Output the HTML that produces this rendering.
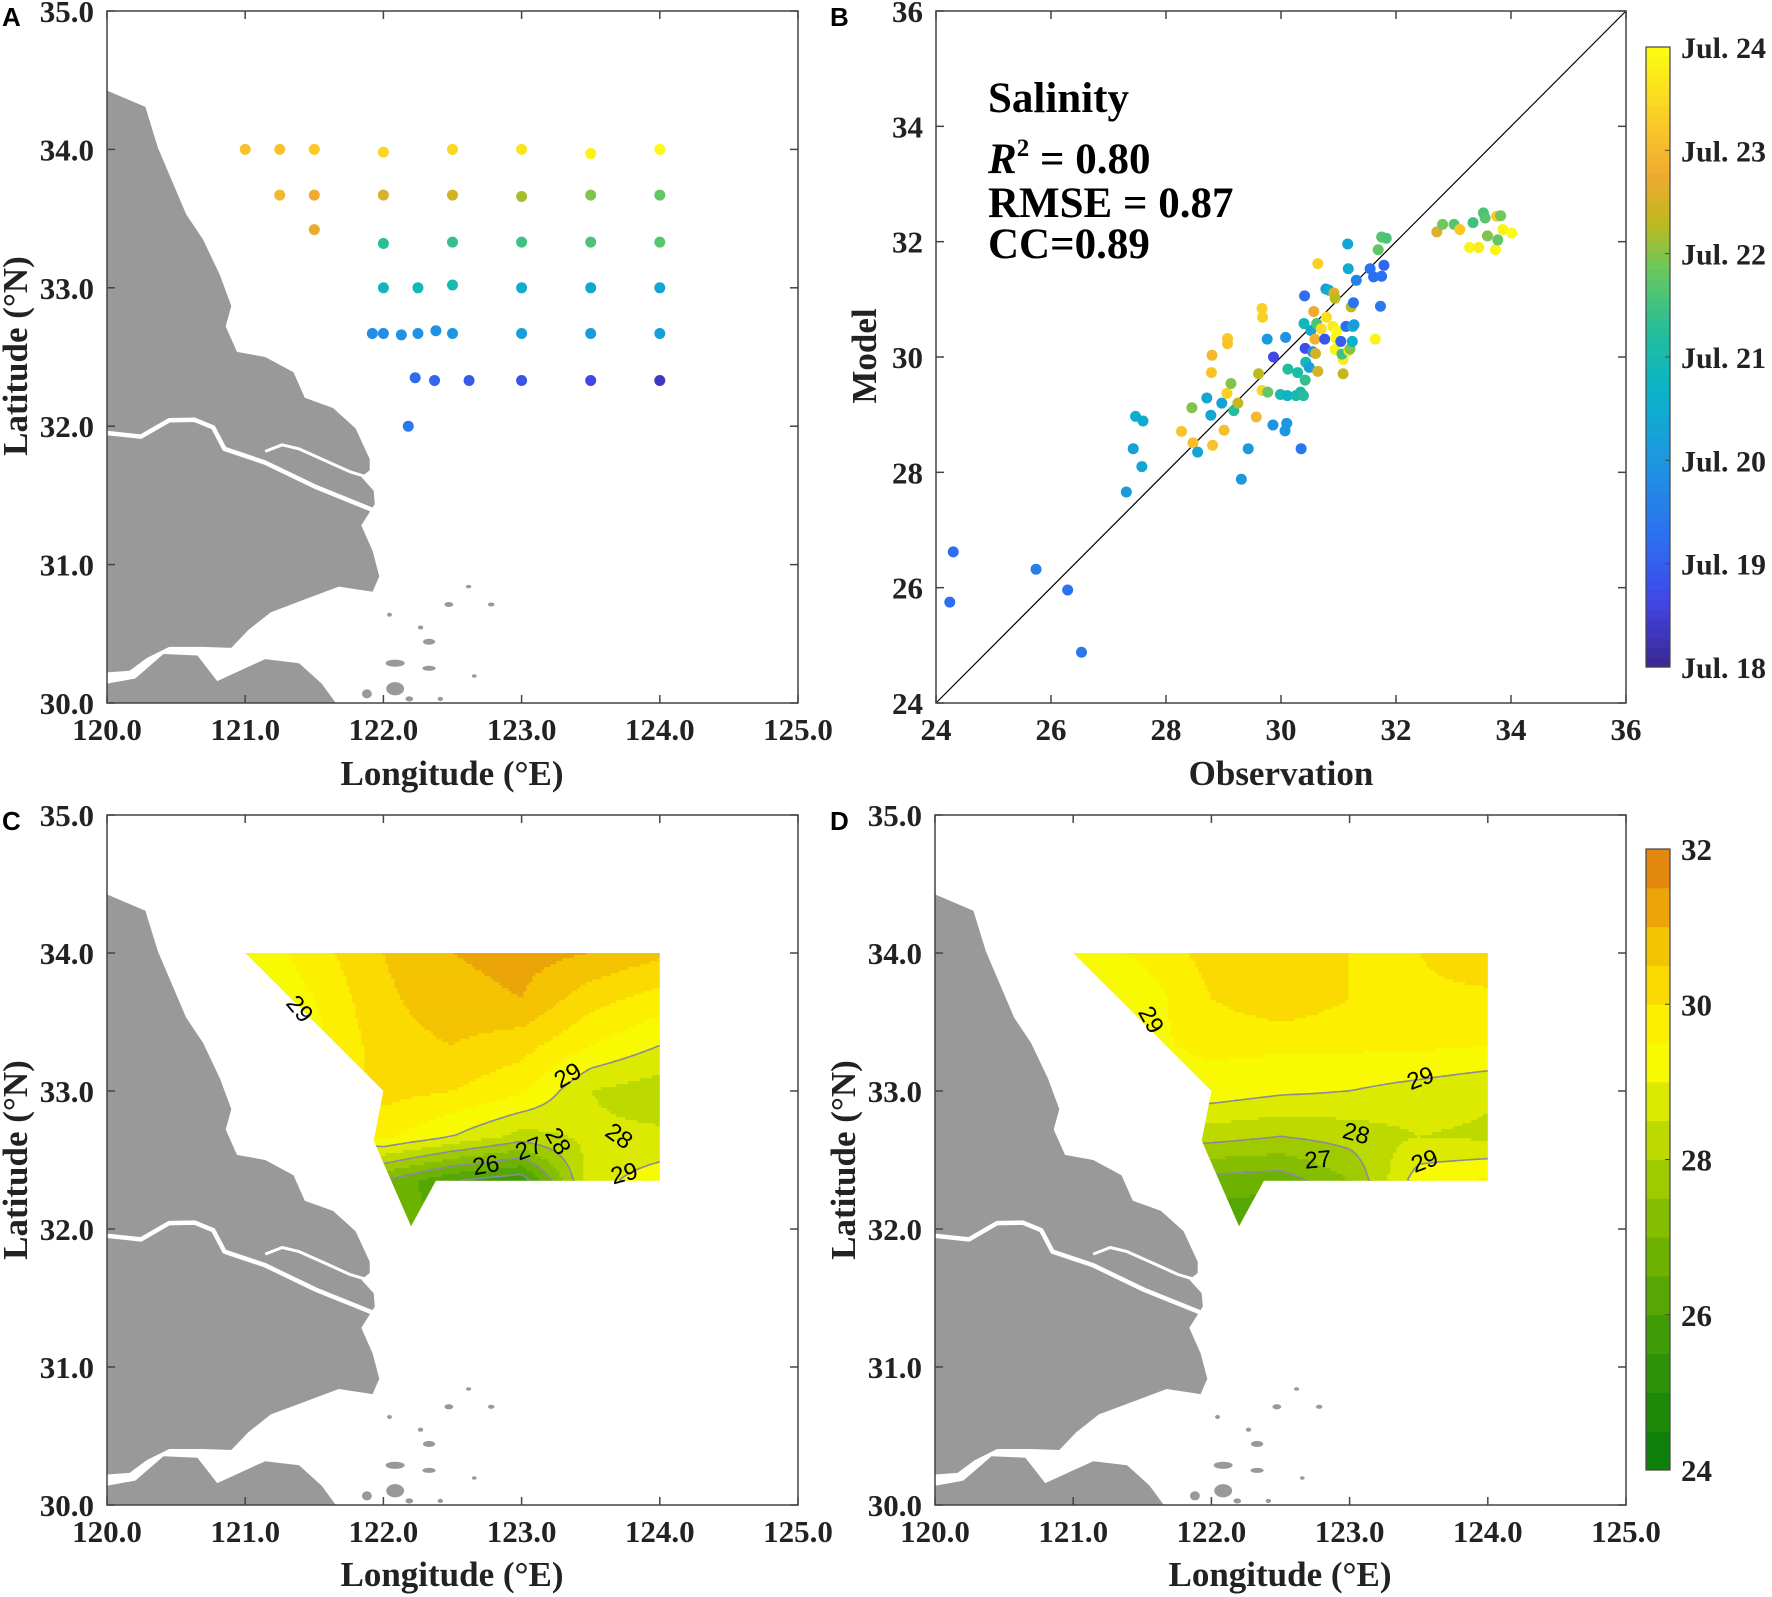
<!DOCTYPE html>
<html><head><meta charset="utf-8"><style>
html,body{margin:0;padding:0;background:#fff;overflow:hidden;}
svg{display:block;}
.tk{font-family:"Liberation Serif",serif;font-weight:bold;font-size:31px;fill:#222;}
.lb{font-family:"Liberation Serif",serif;font-weight:bold;font-size:35px;fill:#222;}
.pl{font-family:"Liberation Sans",sans-serif;font-weight:bold;font-size:26px;fill:#000;}
.cl{font-family:"Liberation Sans",sans-serif;font-size:24px;fill:#000;}
</style></head><body>
<svg id="fig" width="1772" height="1597" viewBox="0 0 1772 1597" xmlns="http://www.w3.org/2000/svg">
<defs></defs>
</svg>
<script>
// ---------- DATA ----------
const stLon = [121.0,121.25,121.5,122.0,122.5,123.0,123.5,124.0, 121.25,121.5,122.0,122.5,123.0,123.5,124.0, 121.5, 122.0,122.5,123.0,123.5,124.0, 122.0,122.25,122.5,123.0,123.5,124.0, 121.92,122.0,122.13,122.25,122.38,122.5,123.0,123.5,124.0, 122.23,122.37,122.62,123.0,123.5,124.0, 122.18];
const stLat = [34.0,34.0,34.0,33.98,34.0,34.0,33.97,34.0, 33.67,33.67,33.67,33.67,33.66,33.67,33.67, 33.42, 33.32,33.33,33.33,33.33,33.33, 33.0,33.0,33.02,33.0,33.0,33.0, 32.67,32.67,32.66,32.67,32.69,32.67,32.67,32.67,32.67, 32.35,32.33,32.33,32.33,32.33,32.33, 32.0];
const stDay = [23.2,23.2,23.3,23.5,23.5,23.7,23.9,24.0, 23.0,22.8,22.6,22.5,22.2,22.0,21.8, 22.7, 21.3,21.4,21.5,21.6,21.7, 20.9,20.9,21.0,20.5,20.4,20.3, 19.8,19.8,19.9,19.9,19.9,20.0,20.2,20.1,20.2, 19.2,19.1,18.9,18.8,18.6,18.3, 19.4];

const obs = [24.24,24.30,25.74,26.29,26.53,27.31,27.43,27.47,27.60,27.58,28.27,28.45,28.47,28.55,28.71,28.78,28.79,28.80,28.81,28.97,29.01,29.06,29.07,29.07,29.13,29.18,29.25,29.31,29.43,29.57,29.61,29.67,29.68,29.67,29.76,29.77,29.86,29.87,29.99,30.07,30.08,30.10,30.11,30.12,30.26,30.29,30.34,30.35,30.39,30.41,30.40,30.42,30.42,30.43,30.49,30.52,30.55,30.57,30.59,30.62,30.64,30.64,30.60,30.70,30.76,30.78,30.79,30.83,30.90,30.92,30.94,30.95,30.94,30.97,31.04,31.08,31.08,31.06,31.13,31.16,31.17,31.18,31.20,31.22,31.24,31.25,31.26,31.27,31.31,31.55,31.61,31.64,31.69,31.73,31.75,31.75,31.79,31.83,32.71,32.81,33.01,33.11,33.28,33.34,33.44,33.52,33.55,33.59,33.73,33.75,33.77,33.82,33.86,34.01];
const mod = [25.75,26.62,26.32,25.96,24.88,27.66,28.41,28.97,28.89,28.10,28.71,29.12,28.51,28.35,29.29,28.99,29.73,30.03,28.47,29.20,28.73,29.37,30.32,30.23,29.54,29.07,29.20,27.88,28.41,28.96,29.71,30.84,30.69,29.42,30.31,29.39,28.82,30.00,29.35,28.72,30.34,28.85,29.33,29.79,29.33,29.73,29.39,28.41,29.33,31.06,30.58,30.15,29.60,29.91,29.82,30.46,30.09,30.79,30.31,30.58,31.62,29.75,30.06,30.49,30.31,31.18,30.69,31.16,30.53,31.11,31.02,30.33,30.13,30.45,30.27,29.96,29.71,30.05,30.53,31.96,31.53,30.11,30.14,30.87,30.27,30.53,30.94,30.56,31.33,31.53,31.39,30.31,31.86,30.88,31.40,32.08,31.59,32.06,32.17,32.30,32.30,32.21,31.90,32.33,31.90,32.50,32.41,32.10,31.86,32.44,32.03,32.45,32.21,32.15];
const day = [19.2,19.2,19.5,19.3,19.4,20.1,20.3,20.5,20.5,20.4,23.2,22.0,23.1,20.3,20.4,20.4,23.2,23.0,23.2,20.3,23.1,23.4,23.3,23.2,22.0,21.2,22.4,20.0,20.1,23.0,22.3,23.4,23.4,23.5,20.1,21.8,19.9,18.6,21.0,20.0,19.9,20.0,20.7,21.2,21.0,21.1,21.0,19.4,21.2,19.2,20.9,18.7,21.4,21.0,20.2,20.4,19.7,22.8,22.9,21.6,23.4,22.5,22.5,23.6,18.8,20.2,23.6,20.5,23.8,22.6,22.3,24.0,23.9,24.0,19.0,23.8,22.4,21.5,19.2,20.4,20.5,23.7,22.0,22.3,20.6,20.8,19.3,20.1,19.6,19.3,19.2,23.9,21.8,19.4,19.3,21.7,19.1,21.6,22.6,21.9,21.7,23.3,23.9,21.5,23.8,21.6,21.7,22.0,23.9,23.3,21.8,21.9,23.9,24.0];
const bTicks = [24,26,28,30,32,34,36];
const dayTicks = ["Jul. 18","Jul. 19","Jul. 20","Jul. 21","Jul. 22","Jul. 23","Jul. 24"];

const gLon = [121.0,121.5,122.0,122.5,123.0,123.5,124.0];
const gLat = [32.0,32.35,32.67,33.0,33.33,33.67,34.0];
const fieldC = [
 [26.6,26.6,26.6,26.6,26.6,26.6,26.6],
 [27.0,27.0,27.0,26.0,25.6,28.8,29.3],
 [29.0,29.2,29.6,29.0,28.3,28.6,28.6],
 [29.0,29.3,30.2,30.0,29.6,28.5,28.2],
 [28.8,29.3,30.3,30.5,30.2,29.5,29.0],
 [28.8,29.5,30.4,30.8,31.0,30.2,29.8],
 [29.0,29.8,30.5,31.0,31.2,31.0,30.6]];
const fieldD = [
 [26.0,26.0,26.0,26.0,26.0,26.0,26.0],
 [27.0,27.0,26.8,26.7,27.5,29.3,29.6],
 [28.3,28.3,28.2,28.0,28.2,28.5,28.4],
 [29.3,29.3,29.3,29.1,29.0,28.8,28.6],
 [29.2,29.4,29.6,29.6,29.6,29.6,29.5],
 [28.8,29.2,30.0,30.4,30.0,29.9,29.9],
 [29.2,29.6,30.2,30.5,30.0,30.0,30.3]];
const cbTicks = [24,26,28,30,32];
const levelsC = [26,27,28,29];
const levelsD = [27,28,29];
const mapXTicks = [120,121,122,123,124,125];
const mapYTicks = [30,31,32,33,34,35];

// ---------- helpers ----------
const NS="http://www.w3.org/2000/svg";
const svg=document.getElementById('fig');
function mk(tag,attrs,parent){const e=document.createElementNS(NS,tag);for(const k in attrs)e.setAttribute(k,attrs[k]);(parent||svg).appendChild(e);return e;}
function lerp(a,b,t){return a+(b-a)*t;}
const cmT=[0,0.1,0.2,0.33,0.45,0.55,0.65,0.72,0.8,0.88,1.0];
const cmC=[[60,40,150],[65,70,230],[45,110,240],[30,150,225],[10,180,200],[40,190,150],[110,200,90],[190,185,30],[240,170,50],[250,200,40],[250,250,20]];
function parula(t){t=Math.max(0,Math.min(1,t));for(let i=0;i<cmT.length-1;i++){if(t<=cmT[i+1]){const f=(t-cmT[i])/(cmT[i+1]-cmT[i]);const a=cmC[i],b=cmC[i+1];return `rgb(${Math.round(lerp(a[0],b[0],f))},${Math.round(lerp(a[1],b[1],f))},${Math.round(lerp(a[2],b[2],f))})`;}}return 'rgb(250,250,20)';}
const salStops=[[24,[8,124,10]],[25.5,[52,150,8]],[27,[120,184,0]],[28,[172,208,0]],[28.8,[222,236,0]],[29.4,[255,255,0]],[30,[252,228,0]],[30.6,[246,204,0]],[31.2,[236,168,8]],[32,[222,122,16]]];
function salColor(v){v=Math.max(24,Math.min(32,v));for(let i=0;i<salStops.length-1;i++){const a=salStops[i],b=salStops[i+1];if(v<=b[0]){const f=(v-a[0])/(b[0]-a[0]);return `rgb(${Math.round(lerp(a[1][0],b[1][0],f))},${Math.round(lerp(a[1][1],b[1][1],f))},${Math.round(lerp(a[1][2],b[1][2],f))})`;}}return 'rgb(222,122,16)';}
function bandOf(v){return Math.max(0,Math.min(15,Math.floor((v-24)/0.5)));}
function bandColor(b){return salColor(24+0.25+b*0.5);}

const coastPts=[[190,178],[258,210],[280,290],[330,420],[360,470],[390,540],[410,600],[400,640],[420,690],[470,700],[520,730],[540,780],[590,800],[630,840],[655,900],[655,922],[640,935],[662,962],[664,988],[640,1030],[660,1080],[672,1130],[660,1160],[600,1150],[540,1175],[480,1200],[440,1235],[410,1270],[360,1268],[300,1268],[260,1290],[230,1315],[190,1318]];
const southPts=[[190,1378],[190,1340],[240,1330],[290,1282],[350,1285],[385,1335],[470,1292],[530,1300],[570,1340],[595,1378]];
const riverMain=[[190,849],[250,856],[300,824],[345,823],[378,838],[398,880],[470,907],[560,955],[665,1002]];
const riverNorth=[[470,885],[500,872],[530,880],[580,905],[620,925],[665,940]];
const islandPts=[[700,1300,30,10],[760,1310,20,6],[760,1258,18,8],[795,1185,12,6],[650,1360,14,14],[700,1350,28,22],[745,1230,6,4],[690,1205,5,4],[830,1150,6,3],[870,1185,8,4],[840,1325,5,3],[725,1370,10,6],[780,1370,6,4]];
function zl(p){return [120+(p[0]-190)/244.6,35-(p[1]-22)/271.2];}

function makeAxes(x0,y0,w,h,xmin,xmax,ymin,ymax){
  return {x0,y0,w,h,X:v=>x0+(v-xmin)/(xmax-xmin)*w,Y:v=>y0+h-(v-ymin)/(ymax-ymin)*h};
}
function drawFrame(ax,xt,yt,fmt,name){
  const g=mk('g',{});
  
  
  mk('rect',{x:ax.x0,y:ax.y0,width:ax.w,height:ax.h,fill:'none',stroke:'#444','stroke-width':1.5},g);
  xt.forEach(v=>{const x=ax.X(v);
    mk('line',{x1:x,y1:ax.y0+ax.h,x2:x,y2:ax.y0+ax.h-8,stroke:'#444','stroke-width':1.5},g);
    mk('line',{x1:x,y1:ax.y0,x2:x,y2:ax.y0+8,stroke:'#444','stroke-width':1.5},g);
    const t=mk('text',{x:x,y:ax.y0+ax.h+37,'text-anchor':'middle',class:'tk'},g);t.textContent=fmt(v);
    
    
  });
  yt.forEach(v=>{const y=ax.Y(v);
    mk('line',{x1:ax.x0,y1:y,x2:ax.x0+8,y2:y,stroke:'#444','stroke-width':1.5},g);
    mk('line',{x1:ax.x0+ax.w,y1:y,x2:ax.x0+ax.w-8,y2:y,stroke:'#444','stroke-width':1.5},g);
    const t=mk('text',{x:ax.x0-13,y:y+11,'text-anchor':'end',class:'tk'},g);t.textContent=fmt(v);
    
    
  });
}
function drawLand(ax,name){
  const g=mk('g',{});
  
  
  const P=pts=>pts.map(p=>{const q=zl(p);return ax.X(q[0]).toFixed(1)+','+ax.Y(q[1]).toFixed(1);}).join(' ');
  mk('polygon',{points:P(coastPts),fill:'#999'},g);
  mk('polygon',{points:P(southPts),fill:'#999'},g);
  mk('polyline',{points:P(riverMain),fill:'none',stroke:'#fff','stroke-width':4.5,'stroke-linejoin':'round'},g);
  mk('polyline',{points:P(riverNorth),fill:'none',stroke:'#fff','stroke-width':3,'stroke-linejoin':'round'},g);
  islandPts.forEach(p=>{const q=zl(p);mk('ellipse',{cx:ax.X(q[0]),cy:ax.Y(q[1]),rx:p[2]/1.77/2+1,ry:p[3]/1.96/2+1,fill:'#999'},g);});
}
function xLabel(x,y,txt,name){const t=mk('text',{x:x,y:y,'text-anchor':'middle',class:'lb'});t.textContent=txt;
  
  }
function yLabel(x,y,txt,name){const t=mk('text',{x:0,y:0,'text-anchor':'middle',class:'lb',transform:`translate(${x},${y}) rotate(-90)`});t.textContent=txt;
  
  }
function panelLetter(x,y,l){const t=mk('text',{x:x,y:y,class:'pl'});t.textContent=l;
  
  }
const fmt1=v=>v.toFixed(1);

// ---------- Panel A ----------
const axA=makeAxes(107,11,691,692,120,125,30,35);
drawLand(axA,'panel-a');
stLon.forEach((lo,i)=>{const c=mk('circle',{cx:axA.X(lo),cy:axA.Y(stLat[i]),r:5.5,fill:parula((stDay[i]-18)/6)});
  
  });
drawFrame(axA,mapXTicks,mapYTicks,fmt1,'panel-a');
xLabel(452,785,'Longitude (°E)','x-axis-title-a');
yLabel(27,356,'Latitude (°N)','y-axis-title-a');
panelLetter(2,26,'A');

// ---------- Panel B ----------
const axB=makeAxes(936,11,690,692,24,36,24,36);
mk('line',{x1:axB.X(24),y1:axB.Y(24),x2:axB.X(36),y2:axB.Y(36),stroke:'#000','stroke-width':1.2});
obs.forEach((o,i)=>{const c=mk('circle',{cx:axB.X(o),cy:axB.Y(mod[i]),r:5.5,fill:parula((day[i]-18)/6)});
  
  });
drawFrame(axB,bTicks,bTicks,v=>String(v),'panel-b');
xLabel(1281,785,'Observation','x-axis-title-b');
yLabel(876,356,'Model','y-axis-title-b');
panelLetter(830,26,'B');
[['Salinity',112,'stat-title'],['RMSE = 0.87',217,'stat-rmse'],['CC=0.89',258,'stat-cc']].forEach(a=>{
  const t=mk('text',{x:988,y:a[1],class:'lb',style:'font-size:43px;fill:#000'});t.textContent=a[0];
  
  });
{const t=mk('text',{x:988,y:173,class:'lb',style:'font-size:43px;fill:#000'});
 t.innerHTML='<tspan font-style="italic">R</tspan><tspan font-size="25" dy="-17">2</tspan><tspan dy="17"> = 0.80</tspan>';
 
 }
{const cx=1646,cw=24,cy0=47,cy1=667;const g=mk('g',{});
 
 
 for(let k=0;k<64;k++){const y=cy1-(k+1)*(cy1-cy0)/64;mk('rect',{x:cx,y:y,width:cw,height:(cy1-cy0)/64+0.6,fill:parula(k/63)},g);}
 mk('rect',{x:cx,y:cy0,width:cw,height:cy1-cy0,fill:'none',stroke:'#444','stroke-width':1.2},g);
 dayTicks.forEach((lab,i)=>{const y=cy1-i*(cy1-cy0)/6;
   mk('line',{x1:cx+cw-5,y1:y,x2:cx+cw,y2:y,stroke:'#444'},g);
   const t=mk('text',{x:1681,y:y+11,class:'tk',style:'font-size:30px'},g);t.textContent=lab;
   
   });}

// ---------- Panels C/D ----------
const domainPts=[[121.0,34.0],[124.0,34.0],[124.0,32.35],[122.38,32.35],[122.2,32.02],[121.93,32.64],[122.0,33.0]];
function field(F,lo,la){
  let i=0;while(i<gLon.length-2&&lo>gLon[i+1])i++;
  let j=0;while(j<gLat.length-2&&la>gLat[j+1])j++;
  const fx=Math.max(0,Math.min(1,(lo-gLon[i])/(gLon[i+1]-gLon[i])));
  const fy=Math.max(0,Math.min(1,(la-gLat[j])/(gLat[j+1]-gLat[j])));
  return lerp(lerp(F[j][i],F[j][i+1],fx),lerp(F[j+1][i],F[j+1][i+1],fx),fy);
}
function drawContourPanel(ax,F,levels,id,labels){
  const clip=mk('clipPath',{id:'clip-'+id},svg.querySelector('defs'));
  mk('polygon',{points:domainPts.map(p=>ax.X(p[0])+','+ax.Y(p[1])).join(' ')},clip);
  const g=mk('g',{'clip-path':`url(#clip-${id})`});
  
  
  const s=3;const xa=ax.X(120.95),xb=ax.X(124.05),ya=ax.Y(34.05),yb=ax.Y(31.95);
  const nx=Math.ceil((xb-xa)/s),ny=Math.ceil((yb-ya)/s);
  const inv=(px,py)=>[120+(px-ax.x0)/ax.w*5,30+(ax.y0+ax.h-py)/ax.h*5];
  for(let r=0;r<ny;r++){let run=-1,rb=-1;
    for(let c=0;c<=nx;c++){let b=-2;
      if(c<nx){const q=inv(xa+(c+0.5)*s,ya+(r+0.5)*s);b=bandOf(field(F,q[0],q[1]));}
      if(b!==rb){if(rb>=0){mk('rect',{x:xa+run*s,y:ya+r*s,width:(c-run)*s+0.5,height:s+0.5,fill:bandColor(rb)},g);}run=c;rb=b;}
    }}
  const V=[];for(let r=0;r<=ny;r++){V.push([]);for(let c=0;c<=nx;c++){const q=inv(xa+c*s,ya+r*s);V[r].push(field(F,q[0],q[1]));}}
  levels.forEach(L=>{let d='';
    for(let r=0;r<ny;r++)for(let c=0;c<nx;c++){
      const a=V[r][c],b=V[r][c+1],cc=V[r+1][c+1],dd=V[r+1][c];
      const pts=[];
      const e=(v1,v2,x1,y1,x2,y2)=>{if((v1<L)!==(v2<L)){const t=(L-v1)/(v2-v1);pts.push([x1+(x2-x1)*t,y1+(y2-y1)*t]);}};
      const X0=xa+c*s,Y0=ya+r*s;
      e(a,b,X0,Y0,X0+s,Y0);e(b,cc,X0+s,Y0,X0+s,Y0+s);e(dd,cc,X0,Y0+s,X0+s,Y0+s);e(a,dd,X0,Y0,X0,Y0+s);
      if(pts.length>=2)d+=`M${pts[0][0].toFixed(1)},${pts[0][1].toFixed(1)}L${pts[1][0].toFixed(1)},${pts[1][1].toFixed(1)}`;
      if(pts.length===4)d+=`M${pts[2][0].toFixed(1)},${pts[2][1].toFixed(1)}L${pts[3][0].toFixed(1)},${pts[3][1].toFixed(1)}`;
    }
    const p=mk('path',{d:d,fill:'none',stroke:'#8a8a9a','stroke-width':1.6},g);
    
    
  });
  labels.forEach(l=>{const x=ax.X(l[1]),y=ax.Y(l[2]);
    const t=mk('text',{x:x,y:y+9,'text-anchor':'middle',class:'cl',transform:`rotate(${l[3]} ${x} ${y})`});t.textContent=l[0];
    
    });
}
const axC=makeAxes(107,815,691,690,120,125,30,35);
drawLand(axC,'panel-c');
drawContourPanel(axC,fieldC,levelsC,'panel-c',[['29',121.4,33.6,50],['29',123.33,33.12,-30],['28',123.71,32.68,35],['28',123.27,32.64,60],['27',123.05,32.59,-20],['26',122.74,32.47,-10],['29',123.74,32.41,-15]]);
drawFrame(axC,mapXTicks,mapYTicks,fmt1,'panel-c');
xLabel(452,1586,'Longitude (°E)','x-axis-title-c');
yLabel(27,1160,'Latitude (°N)','y-axis-title-c');
panelLetter(2,830,'C');

const axD=makeAxes(935,815,691,690,120,125,30,35);
drawLand(axD,'panel-d');
drawContourPanel(axD,fieldD,levelsD,'panel-d',[['29',121.57,33.52,60],['29',123.51,33.1,-20],['28',123.05,32.7,15],['27',122.77,32.51,-5],['29',123.54,32.5,-20]]);
drawFrame(axD,mapXTicks,mapYTicks,fmt1,'panel-d');
xLabel(1280,1586,'Longitude (°E)','x-axis-title-d');
yLabel(855,1160,'Latitude (°N)','y-axis-title-d');
panelLetter(830,830,'D');

{const cx=1646,cw=24,cy0=849,cy1=1470;const g=mk('g',{});
 
 
 for(let b=0;b<16;b++){const h=(cy1-cy0)/16;mk('rect',{x:cx,y:cy1-(b+1)*h,width:cw,height:h+0.5,fill:bandColor(b)},g);}
 mk('rect',{x:cx,y:cy0,width:cw,height:cy1-cy0,fill:'none',stroke:'#444','stroke-width':1.2},g);
 cbTicks.forEach(v=>{const y=cy1-(v-24)/8*(cy1-cy0);
   mk('line',{x1:cx+cw-5,y1:y,x2:cx+cw,y2:y,stroke:'#444'},g);
   const t=mk('text',{x:1681,y:y+11,class:'tk'},g);t.textContent=String(v);
   
   });}
</script>
</body></html>
